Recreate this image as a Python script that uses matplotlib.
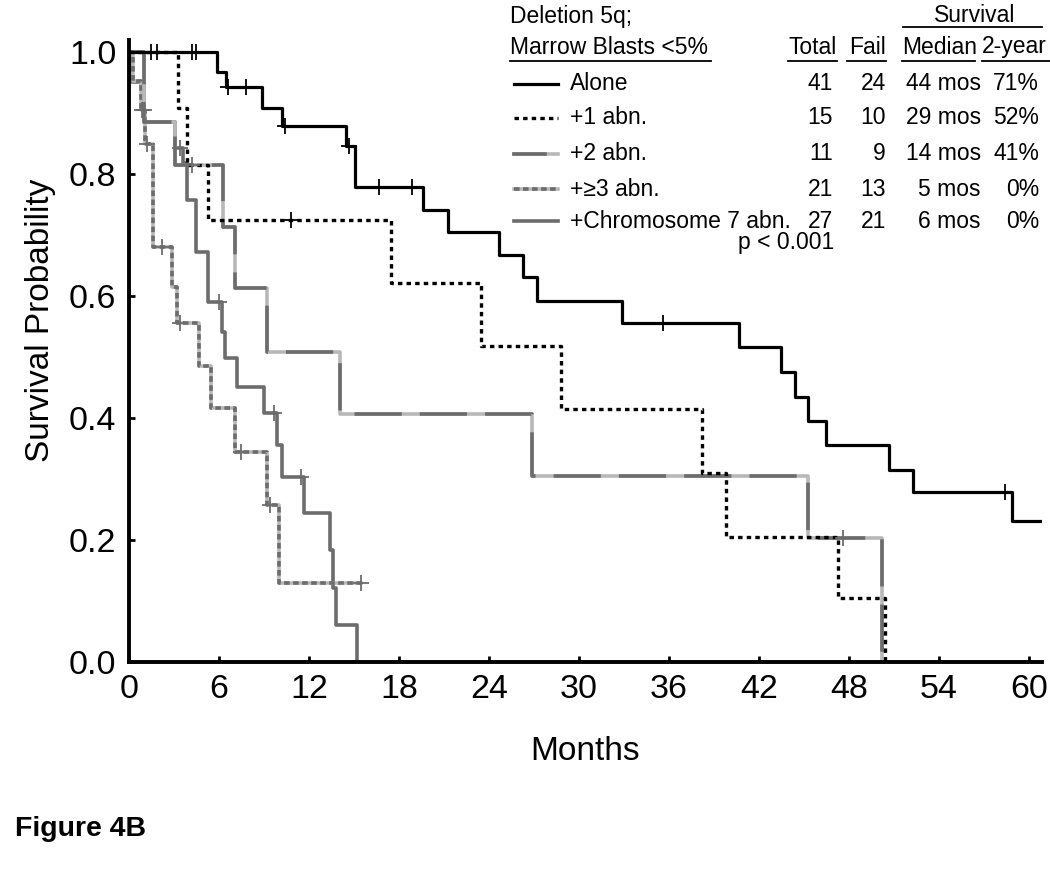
import numpy as np
import matplotlib
matplotlib.use("Agg")
import matplotlib.pyplot as plt
from matplotlib import font_manager
from matplotlib.lines import Line2D

# ---------------- data ----------------
groups = ["Alone", "+1 abn.", "+2 abn.", "+\u22653 abn.", "+Chromosome 7 abn."]
totals = [41, 15, 11, 21, 27]
fails = [24, 10, 9, 13, 21]
medians = ["44 mos", "29 mos", "14 mos", "5 mos", "6 mos"]
two_year = ["71%", "52%", "41%", "0%", "0%"]

alone_t = [0, 5.9, 6.5, 8.9, 10.2, 14.5, 15.1, 19.6, 21.3, 24.7, 26.3, 27.2, 32.9,
           40.7, 43.5, 44.4, 45.3, 46.5, 50.7, 52.3, 58.9]
alone_s = [1.0, 0.967, 0.943, 0.908, 0.879, 0.846, 0.779, 0.741, 0.705, 0.667, 0.631,
           0.592, 0.556, 0.516, 0.475, 0.434, 0.395, 0.356, 0.315, 0.279, 0.231]
alone_end = 60.9
alone_cens = [4.2, 4.5, 6.6, 7.8, 10.4, 14.7, 16.7, 18.9, 35.6, 58.4]

ab1_t = [0, 3.3, 3.9, 5.3, 17.5, 23.5, 28.8, 38.2, 39.8, 47.3, 50.4]
ab1_s = [1.0, 0.908, 0.815, 0.725, 0.621, 0.518, 0.415, 0.31, 0.205, 0.105, 0.0]
ab1_end = 50.4
ab1_cens = [1.5, 1.9, 10.8]

ab2_t = [0, 1.0, 3.1, 6.3, 7.1, 9.2, 14.1, 26.9, 45.3, 50.2]
ab2_s = [1.0, 0.885, 0.815, 0.713, 0.613, 0.508, 0.407, 0.305, 0.203, 0.0]
ab2_end = 50.2
ab2_cens = [4.2, 47.6]

ab3_t = [0, 0.3, 0.8, 1.1, 1.6, 2.9, 3.2, 4.7, 5.5, 7.1, 9.2, 10.0]
ab3_s = [1.0, 0.952, 0.905, 0.85, 0.68, 0.615, 0.556, 0.485, 0.416, 0.344, 0.257, 0.13]
ab3_end = 15.5
ab3_cens = [0.9, 1.0, 1.2, 2.2, 3.4, 7.5, 9.4, 15.5]

chr7_t = [0, 0.2, 1.0, 3.1, 3.6, 3.9, 4.5, 5.3, 6.2, 6.4, 7.2, 9.0, 9.9, 10.2, 11.7,
          13.4, 13.6, 13.8, 15.2]
chr7_s = [1.0, 0.951, 0.885, 0.843, 0.818, 0.757, 0.672, 0.59, 0.541, 0.498, 0.451,
          0.408, 0.356, 0.303, 0.244, 0.184, 0.122, 0.061, 0.0]
chr7_end = 15.2
chr7_cens = [3.4, 6.0, 9.7, 11.5]

x_ticks = [0, 6, 12, 18, 24, 30, 36, 42, 48, 54, 60]
y_ticks = [0.0, 0.2, 0.4, 0.6, 0.8, 1.0]

# ---------------- style ----------------
names = {f.name for f in font_manager.fontManager.ttflist}
BASE = "Liberation Sans" if "Liberation Sans" in names else "DejaVu Sans"
NARROW = "Liberation Sans Narrow" if "Liberation Sans Narrow" in names else BASE
plt.rcParams["font.family"] = [BASE, "DejaVu Sans"]
plt.rcParams["lines.scale_dashes"] = False

DARK = "#6c6c6c"
LIGHT = "#b8b8b8"
W, H = 1050, 876

fig = plt.figure(figsize=(W / 100, H / 100), dpi=100)
ax = fig.add_axes([129 / W, 1 - 662 / H, 913 / W, 622 / H])
ax.set_xlim(0, 60.87)
ax.set_ylim(0, 622 / 610)


def stepdata(t, s, end):
    tt = list(t) + [end]
    ss = list(s) + [s[-1]]
    return tt, ss


def surv_at(t, s, x):
    idx = np.searchsorted(np.array(t), np.array(x), side="right") - 1
    return np.array(s)[idx]


def censor(t, s, c, color):
    ax.plot(c, surv_at(t, s, c), ls="none", marker="+", ms=12, mew=1.3,
            color=color, zorder=6)


# chromosome 7
tt, ss = stepdata(chr7_t, chr7_s, chr7_end)
ax.step(tt, ss, where="post", color=DARK, lw=2.6, zorder=2)
censor(chr7_t, chr7_s, chr7_cens, DARK)

# >=3 abn
tt, ss = stepdata(ab3_t, ab3_s, ab3_end)
ax.step(tt, ss, where="post", color=LIGHT, lw=2.6, zorder=2)
ax.step(tt, ss, where="post", color=DARK, lw=2.6, ls=(0, (4, 2.5)), zorder=2.1)
censor(ab3_t, ab3_s, ab3_cens, DARK)

# +2 abn
tt, ss = stepdata(ab2_t, ab2_s, ab2_end)
ax.step(tt, ss, where="post", color=LIGHT, lw=2.6, zorder=2.2)
ax.step(tt, ss, where="post", color=DARK, lw=2.6, ls=(0, (34, 13)), zorder=2.3)
censor(ab2_t, ab2_s, ab2_cens, DARK)

# +1 abn
tt, ss = stepdata(ab1_t, ab1_s, ab1_end)
ax.step(tt, ss, where="post", color="black", lw=2.4, ls=(0, (3.2, 3.0)), zorder=3)
censor(ab1_t, ab1_s, ab1_cens, "black")

# alone
tt, ss = stepdata(alone_t, alone_s, alone_end)
ax.step(tt, ss, where="post", color="black", lw=2.3, zorder=4)
censor(alone_t, alone_s, alone_cens, "black")

# axes styling
for side in ["top", "right"]:
    ax.spines[side].set_visible(False)
for side in ["left", "bottom"]:
    ax.spines[side].set_linewidth(2.8)
ax.set_xticks(x_ticks)
ax.set_xticklabels([str(v) for v in x_ticks])
ax.set_yticks(y_ticks)
ax.set_yticklabels([f"{v:.1f}" for v in y_ticks])
ax.tick_params(direction="in", length=4, width=2, pad=9, labelsize=24.5)
for lab in ax.get_xticklabels() + ax.get_yticklabels():
    lab.set_family([NARROW, BASE])

ax.set_xlabel("Months", fontsize=24, family=[NARROW, BASE], labelpad=22)
fig.text(40 / W, 1 - 320 / H, "Survival Probability", rotation=90, fontsize=24,
         family=[NARROW, BASE], ha="center", va="center")


# ---------------- legend table ----------------
def P(x, y):
    return x / W, 1 - y / H


FS = 16.5
fig.text(*P(510, 16), "Deletion 5q;", fontsize=FS, ha="left", va="center")
fig.text(*P(510, 47), "Marrow Blasts <5%", fontsize=FS, ha="left", va="center")
fig.text(*P(837, 47), "Total", fontsize=FS, ha="right", va="center")
fig.text(*P(886, 47), "Fail", fontsize=FS, ha="right", va="center")
fig.text(*P(902, 47), "Median", fontsize=FS, ha="left", va="center")
fig.text(*P(982, 47), "2-year", fontsize=FS, ha="left", va="center")
fig.text(*P(975, 15), "Survival", fontsize=FS, ha="center", va="center")


def hline(x0, x1, y, lw=1.3, color="black", ls="-"):
    fig.add_artist(Line2D([x0 / W, x1 / W], [1 - y / H, 1 - y / H],
                          transform=fig.transFigure, color=color, lw=lw, ls=ls))


hline(903, 1042, 27)
hline(510, 711, 61)
hline(788, 837, 61)
hline(847, 886, 61)
hline(902, 975, 61)
hline(982, 1060, 61)

row_y = [84, 118, 154, 189, 221]
for i, g in enumerate(groups):
    y = row_y[i]
    fig.text(*P(570, y), g, fontsize=FS, ha="left", va="center")
    fig.text(*P(833, y), str(totals[i]), fontsize=FS, ha="right", va="center")
    fig.text(*P(886, y), str(fails[i]), fontsize=FS, ha="right", va="center")
    fig.text(*P(981, y), medians[i], fontsize=FS, ha="right", va="center")
    fig.text(*P(1039, y), two_year[i], fontsize=FS, ha="right", va="center")

# legend sample lines
hline(514, 558, row_y[0], lw=2.3)
hline(514, 558, row_y[1], lw=2.4, ls=(0, (3.2, 3.0)))
hline(514, 558, row_y[2], lw=2.6, color=LIGHT)
hline(514, 545, row_y[2], lw=2.6, color=DARK)
hline(514, 558, row_y[3], lw=2.6, color=LIGHT)
hline(514, 558, row_y[3], lw=2.6, color=DARK, ls=(0, (4, 2.5)))
hline(514, 558, row_y[4], lw=2.6, color=DARK)

fig.text(*P(786, 243), "p < 0.001", fontsize=FS, ha="center", va="center")

fig.text(*P(15, 829), "Figure 4B", fontsize=20.5, fontweight="bold", ha="left", va="center")

fig.savefig("out.png", dpi=100)
